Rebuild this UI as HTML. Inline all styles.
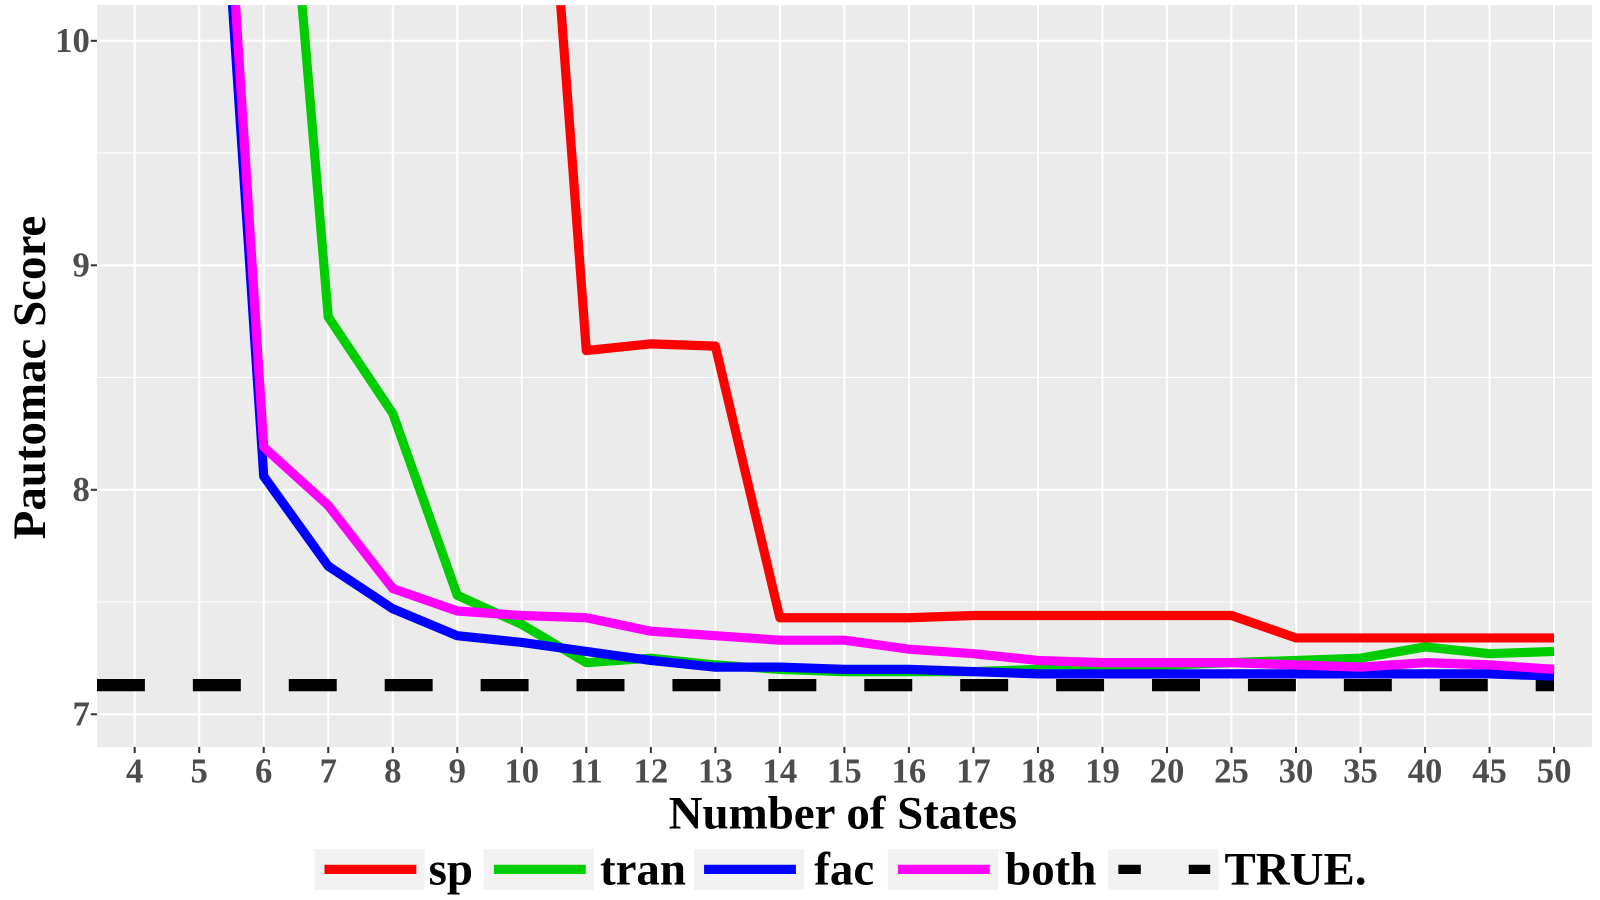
<!DOCTYPE html>
<html><head><meta charset="utf-8"><style>
html,body{margin:0;padding:0;background:#fff;}
svg{display:block;font-family:"Liberation Serif",serif;font-weight:bold;}
</style></head><body>
<svg id="chart" width="1600" height="900" viewBox="0 0 1600 900">
<defs><clipPath id="clip"><rect x="95" y="5" width="1465" height="727"/></clipPath></defs>
<g transform="scale(1.0204)">
<rect x="95" y="5" width="1465" height="727" fill="#EBEBEB"/>
<g id="grid"></g>
<g id="lines" clip-path="url(#clip)"></g>
<g id="axes"></g>
<text x="826" y="812" font-size="46" text-anchor="middle" fill="#000">Number of States</text>
<text transform="translate(44,370) rotate(-90)" font-size="46" text-anchor="middle" fill="#000">Pautomac Score</text>
<g id="legend"></g>
</g>
</svg>
<script>
const categories=["4","5","6","7","8","9","10","11","12","13","14","15","16","17","18","19","20","25","30","35","40","45","50"];
const sp=[20,20,20,20,20,18,12.5,8.62,8.65,8.64,7.43,7.43,7.43,7.44,7.44,7.44,7.44,7.44,7.34,7.34,7.34,7.34,7.34];
const tran=[20,16,12.2,8.77,8.34,7.53,7.40,7.23,7.25,7.22,7.20,7.19,7.19,7.19,7.20,7.21,7.22,7.23,7.24,7.25,7.30,7.27,7.28];
const fac=[20,12.4,8.06,7.66,7.47,7.35,7.32,7.28,7.24,7.21,7.21,7.20,7.20,7.19,7.18,7.18,7.18,7.18,7.18,7.18,7.18,7.18,7.17];
const both=[20,12.7,8.19,7.93,7.56,7.46,7.44,7.43,7.37,7.35,7.33,7.33,7.29,7.27,7.24,7.23,7.23,7.23,7.22,7.21,7.23,7.22,7.20];
const trueVal=7.13;
const yTicks=[7,8,9,10];
const NS="http://www.w3.org/2000/svg";
const xs=i=>132+i*(1523-132)/(categories.length-1);
const ys=v=>700-(v-7)*220;
function mk(tag,attrs,parent){const e=document.createElementNS(NS,tag);for(const k in attrs)e.setAttribute(k,attrs[k]);document.getElementById(parent).appendChild(e);return e;}
for(let v=6.5;v<=10.5;v+=0.5){const y=ys(v);if(y<5||y>732)continue;
 const g=mk('line',{x1:95,x2:1560,y1:y,y2:y,stroke:'#fff','stroke-width':Number.isInteger(v)?2:1},'grid');
 
 }
categories.forEach((c,i)=>{const x=xs(i);
 const g=mk('line',{x1:x,x2:x,y1:5,y2:732,stroke:'#fff','stroke-width':2},'grid');
 
 
 const t=mk('text',{x:x,y:767,'font-size':34,'text-anchor':'middle',fill:'#4D4D4D'},'axes');
 t.textContent=c;
 
 
 const tk=mk('line',{x1:x,x2:x,y1:732,y2:738,stroke:'#333','stroke-width':2},'axes');
 
 });
yTicks.forEach(v=>{const y=ys(v);
 const t=mk('text',{x:88,y:y+11,'font-size':34,'text-anchor':'end',fill:'#4D4D4D'},'axes');
 t.textContent=v;
 
 
 const tk=mk('line',{x1:89,x2:95,y1:y,y2:y,stroke:'#333','stroke-width':2},'axes');
 
 });
const tl=mk('line',{x1:95,x2:xs(categories.length-1),y1:ys(trueVal),y2:ys(trueVal),stroke:'#000','stroke-width':12,'stroke-dasharray':'47 47'},'lines');


const series=[["sp",sp,"#FF0000"],["tran",tran,"#00CD00"],["fac",fac,"#0000FF"],["both",both,"#FF00FF"]];
series.forEach(([n,d,c])=>{
 const p=mk('polyline',{points:d.map((v,i)=>xs(i)+','+ys(v)).join(' '),fill:'none',stroke:c,'stroke-width':9,'stroke-linejoin':'round'},'lines');
 
 });
const leg=[["sp","#FF0000",308,420],["tran","#00CD00",474,588],["fac","#0000FF",680,798],["both","#FF00FF",870,985],["TRUE.","#000",1086,1200]];
leg.forEach(([n,c,kx,tx],i)=>{
 const b=mk('rect',{x:kx,y:832,width:108,height:40,fill:'#F2F2F2'},'legend');
 
 
 const l=mk('line',{x1:kx+10,x2:kx+100,y1:852,y2:852,stroke:c,'stroke-width':9},'legend');
 if(n==="TRUE.")l.setAttribute('stroke-dasharray','22 47');
 
 
 const t=mk('text',{x:tx,y:867,'font-size':46,fill:'#000'},'legend');
 t.textContent=n;
 
 });
</script>
</body></html>
